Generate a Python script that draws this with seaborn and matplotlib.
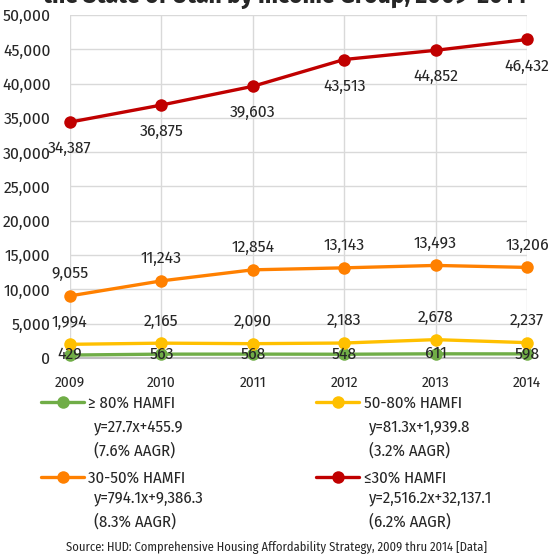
import matplotlib
matplotlib.use("Agg")
import matplotlib.pyplot as plt
import seaborn as sns
import pandas as pd
from matplotlib.ticker import FuncFormatter, MultipleLocator

# Renter households by income group (HUD CHAS), 2009-2014
years = ["2009", "2010", "2011", "2012", "2013", "2014"]
ge80 = [429, 563, 568, 548, 611, 598]
p50_80 = [1994, 2165, 2090, 2183, 2678, 2237]
p30_50 = [9055, 11243, 12854, 13143, 13493, 13206]
le30 = [34387, 36875, 39603, 43513, 44852, 46432]

group_names = ["≥ 80% HAMFI", "50-80% HAMFI", "30-50% HAMFI", "≤30% HAMFI"]
trend_lines = ["y=27.7x+455.9", "y=81.3x+1,939.8", "y=794.1x+9,386.3", "y=2,516.2x+32,137.1"]
growth = ["(7.6% AAGR)", "(3.2% AAGR)", "(8.3% AAGR)", "(6.2% AAGR)"]
colors = ["#70AD47", "#FFC000", "#FF8000", "#C00000"]

title = "the State of Utah by Income Group, 2009-2014"
source = "Source: HUD: Comprehensive Housing Affordability Strategy, 2009 thru 2014 [Data]"

sns.set_theme(style="white")
FONT = ["Fira Sans Condensed", "DejaVu Sans"]
plt.rcParams["font.family"] = FONT
TXT = "#262626"

W, H = 553, 560
fig = plt.figure(figsize=(W / 100, H / 100), dpi=100)
ax = fig.add_axes([70 / W, 1 - 358 / H, (527 - 70) / W, (358 - 15) / H])

series = [ge80, p50_80, p30_50, le30]
rows = []
for name, vals in zip(group_names, series):
    for i, (yr, v) in enumerate(zip(years, vals)):
        rows.append({"pos": i, "year": yr, "value": v, "group": name})
df = pd.DataFrame(rows)

sns.lineplot(data=df, x="pos", y="value", hue="group", hue_order=group_names,
             palette=dict(zip(group_names, colors)), marker="o", markersize=9,
             markeredgewidth=0, linewidth=2.4, legend=False, ax=ax, zorder=3)
for ln in ax.lines:
    ln.set_clip_on(False)

ax.set_xlim(0, 5)
ax.set_ylim(0, 50000)
ax.set_xticks(range(len(years)))
ax.set_xticklabels(years)
ax.yaxis.set_major_locator(MultipleLocator(5000))
ax.yaxis.set_major_formatter(FuncFormatter(lambda v, p: f"{int(v):,}"))
ax.set_xlabel("")
ax.set_ylabel("")
ax.grid(True, color="#d9d9d9", linewidth=1)
ax.set_axisbelow(True)
for s in ["top", "right", "left"]:
    ax.spines[s].set_visible(False)
ax.spines["bottom"].set_color("#bfbfbf")
ax.spines["bottom"].set_linewidth(1.5)
ax.spines["bottom"].set_zorder(2)
ax.tick_params(axis="y", length=0, pad=14, labelsize=12.5, labelcolor=TXT)
ax.tick_params(axis="x", length=0, pad=13, labelsize=11, labelcolor=TXT)

# data labels
offsets = [0, 16, 16, -19]
for vals, dy in zip(series, offsets):
    for i, v in enumerate(vals):
        ax.annotate(f"{v:,}", (i, v), xytext=(0, dy), textcoords="offset points",
                    ha="center", va="center", fontsize=12.5, color=TXT,
                    annotation_clip=False, zorder=4)

# legend: two columns, group name with marker line
handles = ax.lines[:4]
leg_kw = dict(loc="upper left", frameon=False, handlelength=2.6, handletextpad=0.25,
              labelspacing=3.55, borderpad=0, borderaxespad=0, labelcolor=TXT,
              prop={"family": FONT, "size": 12})
fig.legend([handles[0], handles[2]], [group_names[0], group_names[2]],
           bbox_to_anchor=(41 / W, 1 - 395 / H), **leg_kw)
fig.legend([handles[1], handles[3]], [group_names[1], group_names[3]],
           bbox_to_anchor=(316 / W, 1 - 395 / H), **leg_kw)

eq_pos = [(94, 427), (369, 427), (94, 498), (369, 498)]
for (x, y), eq, g in zip(eq_pos, trend_lines, growth):
    fig.text(x / W, 1 - y / H, eq, fontsize=12, color=TXT, va="center", ha="left")
    fig.text(x / W, 1 - (y + 24) / H, g, fontsize=12, color=TXT, va="center", ha="left")

fig.text(277 / W, 1 - 548 / H, source, fontsize=9, color=TXT, ha="center", va="center")
fig.text(285 / W, 1 - 3 / H, title, fontsize=18.2, fontweight="bold", color=TXT,
         ha="center", va="baseline")

fig.savefig("out.png", dpi=100)
